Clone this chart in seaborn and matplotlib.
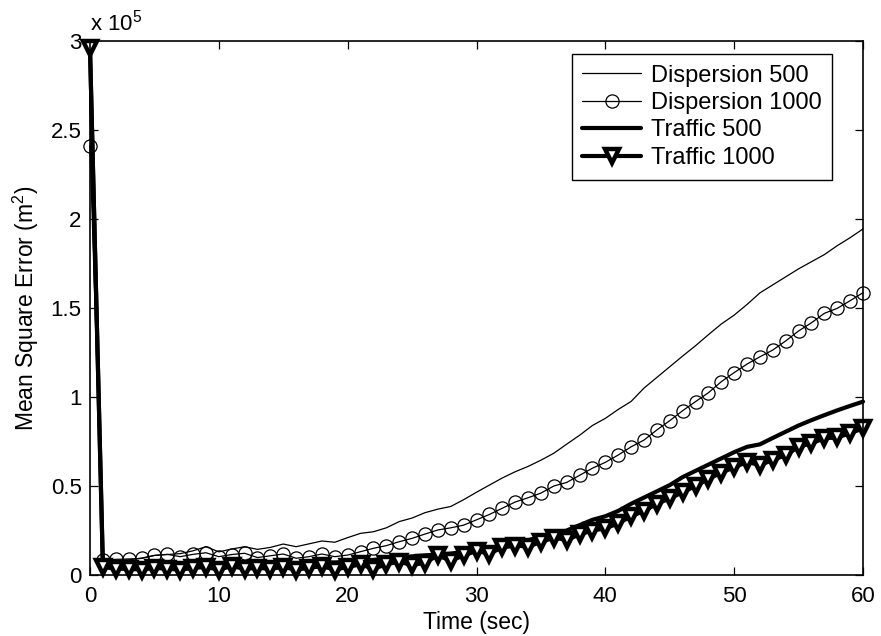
import matplotlib
matplotlib.use("Agg")
import matplotlib.pyplot as plt
from matplotlib.ticker import FuncFormatter, MultipleLocator
import seaborn as sns

# Time axis (seconds)
time_sec = list(range(61))

# Mean square error (m^2) for each scenario
dispersion_500 = [
    290000, 7500, 8000, 8500, 9500, 11000, 11500, 12000, 13600, 15900,
    13000, 14600, 15900, 14400, 15500, 17400, 15900, 17500, 19100, 18400,
    21000, 23400, 24300, 26500, 30000, 32000, 35000, 37000, 38500, 42300,
    46500, 50500, 54500, 58000, 61000, 64500, 68400, 73500, 78500, 84000,
    88000, 93000, 97500, 105000, 111000, 117000, 123000, 128800, 135000, 141000,
    146000, 152000, 158500, 163000, 167500, 172000, 176000, 180000, 185000, 189500,
    194400,
]
dispersion_1000 = [
    241000, 8400, 8800, 9000, 9300, 11000, 11600, 10300, 11600, 12500,
    10300, 11500, 12200, 9800, 10800, 11800, 9400, 10300, 11800, 10300,
    11200, 13100, 15000, 16500, 18700, 20600, 23000, 25300, 26500, 28000,
    31000, 34000, 37500, 41000, 43400, 46000, 50000, 52000, 56000, 60000,
    63300, 67400, 72000, 75800, 81500, 86700, 92300, 97400, 102400, 108600,
    113700, 118500, 122600, 126400, 131500, 137100, 141700, 147000, 149800, 154100,
    158600,
]
traffic_500 = [
    296000, 6000, 6000, 6200, 5800, 6000, 6300, 6000, 6500, 6800,
    6500, 6800, 7000, 6600, 6800, 7000, 6700, 7000, 7200, 7000,
    7500, 8000, 8500, 9000, 9800, 10500, 11000, 11500, 12000, 13000,
    14000, 15000, 16500, 18000, 19500, 21500, 23500, 25000, 28000, 31000,
    33000, 36000, 40000, 43500, 47000, 50500, 55000, 58500, 62000, 65500,
    69000, 72000, 73400, 77000, 80500, 84000, 87000, 89800, 92500, 95000,
    97400,
]
traffic_1000 = [
    296000, 4500, 3500, 3500, 3000, 4000, 3500, 3000, 4000, 4500,
    3000, 5000, 3500, 4000, 3500, 4500, 3000, 4000, 5000, 3000,
    4500, 6000, 3500, 6000, 7500, 5500, 7000, 11000, 8000, 11000,
    13500, 12000, 15500, 16500, 16000, 18500, 21000, 19700, 22800, 25000,
    26200, 29000, 33000, 36000, 40000, 43000, 46500, 50000, 54000, 57500,
    60500, 63500, 61800, 64600, 67400, 72000, 74000, 76800, 77300, 79600,
    82400,
]

sns.set_style("ticks")
plt.rcParams["font.family"] = ["Liberation Sans", "DejaVu Sans"]
plt.rcParams["mathtext.fontset"] = "custom"
plt.rcParams["mathtext.rm"] = "Liberation Sans"
plt.rcParams["mathtext.it"] = "Liberation Sans:italic"
plt.rcParams["text.color"] = "black"
plt.rcParams["axes.labelcolor"] = "black"

TICK_FS = 16
LABEL_FS = 16.5
LEGEND_FS = 17

fig = plt.figure(figsize=(8.81, 6.36), dpi=100)
fig.patch.set_facecolor("white")
ax = fig.add_axes([90 / 881, 61 / 636, 773 / 881, 534 / 636])

series = [
    ("Dispersion 500", dispersion_500, dict(linewidth=0.9)),
    ("Dispersion 1000", dispersion_1000,
     dict(linewidth=0.9, marker="o", markersize=9.5, markerfacecolor="none",
          markeredgecolor="black", markeredgewidth=0.9)),
    ("Traffic 500", traffic_500, dict(linewidth=3.0)),
    ("Traffic 1000", traffic_1000,
     dict(linewidth=3.0, marker="v", markersize=9.5, markerfacecolor="white",
          markeredgecolor="black", markeredgewidth=3.2)),
]
for label, values, style in series:
    sns.lineplot(x=time_sec, y=values, ax=ax, color="black", label=label,
                 clip_on=False, **style)

ax.set_xlim(0, 60)
ax.set_ylim(0, 3e5)
ax.xaxis.set_major_locator(MultipleLocator(10))
ax.yaxis.set_major_locator(MultipleLocator(0.5e5))
ax.yaxis.set_major_formatter(FuncFormatter(lambda v, p: f"{v / 1e5:g}"))
ax.tick_params(direction="in", top=True, right=True, length=6, width=0.9,
               labelsize=TICK_FS, colors="black")
ax.tick_params(axis="x", pad=8)
ax.tick_params(axis="y", pad=6)
for sp in ax.spines.values():
    sp.set_linewidth(1.2)
    sp.set_color("black")

ax.set_xlabel("Time (sec)", fontsize=LABEL_FS, labelpad=3)
ax.set_ylabel("Mean Square Error (m$^2$)", fontsize=LABEL_FS, labelpad=7)
ax.text(0, 1 + 11 / 534, r"x 10$^5$", transform=ax.transAxes, fontsize=TICK_FS,
        ha="left", va="baseline")

leg = ax.legend(loc="upper right", bbox_to_anchor=(832 / 881, (636 - 54) / 636),
                bbox_transform=fig.transFigure, borderaxespad=0, fontsize=LEGEND_FS,
                frameon=True, fancybox=False, edgecolor="black", framealpha=1,
                handlelength=2.5, handletextpad=0.4, labelspacing=0.23, borderpad=0.45)
leg.get_frame().set_linewidth(1.0)

fig.savefig("out.png", dpi=100, facecolor="white")
